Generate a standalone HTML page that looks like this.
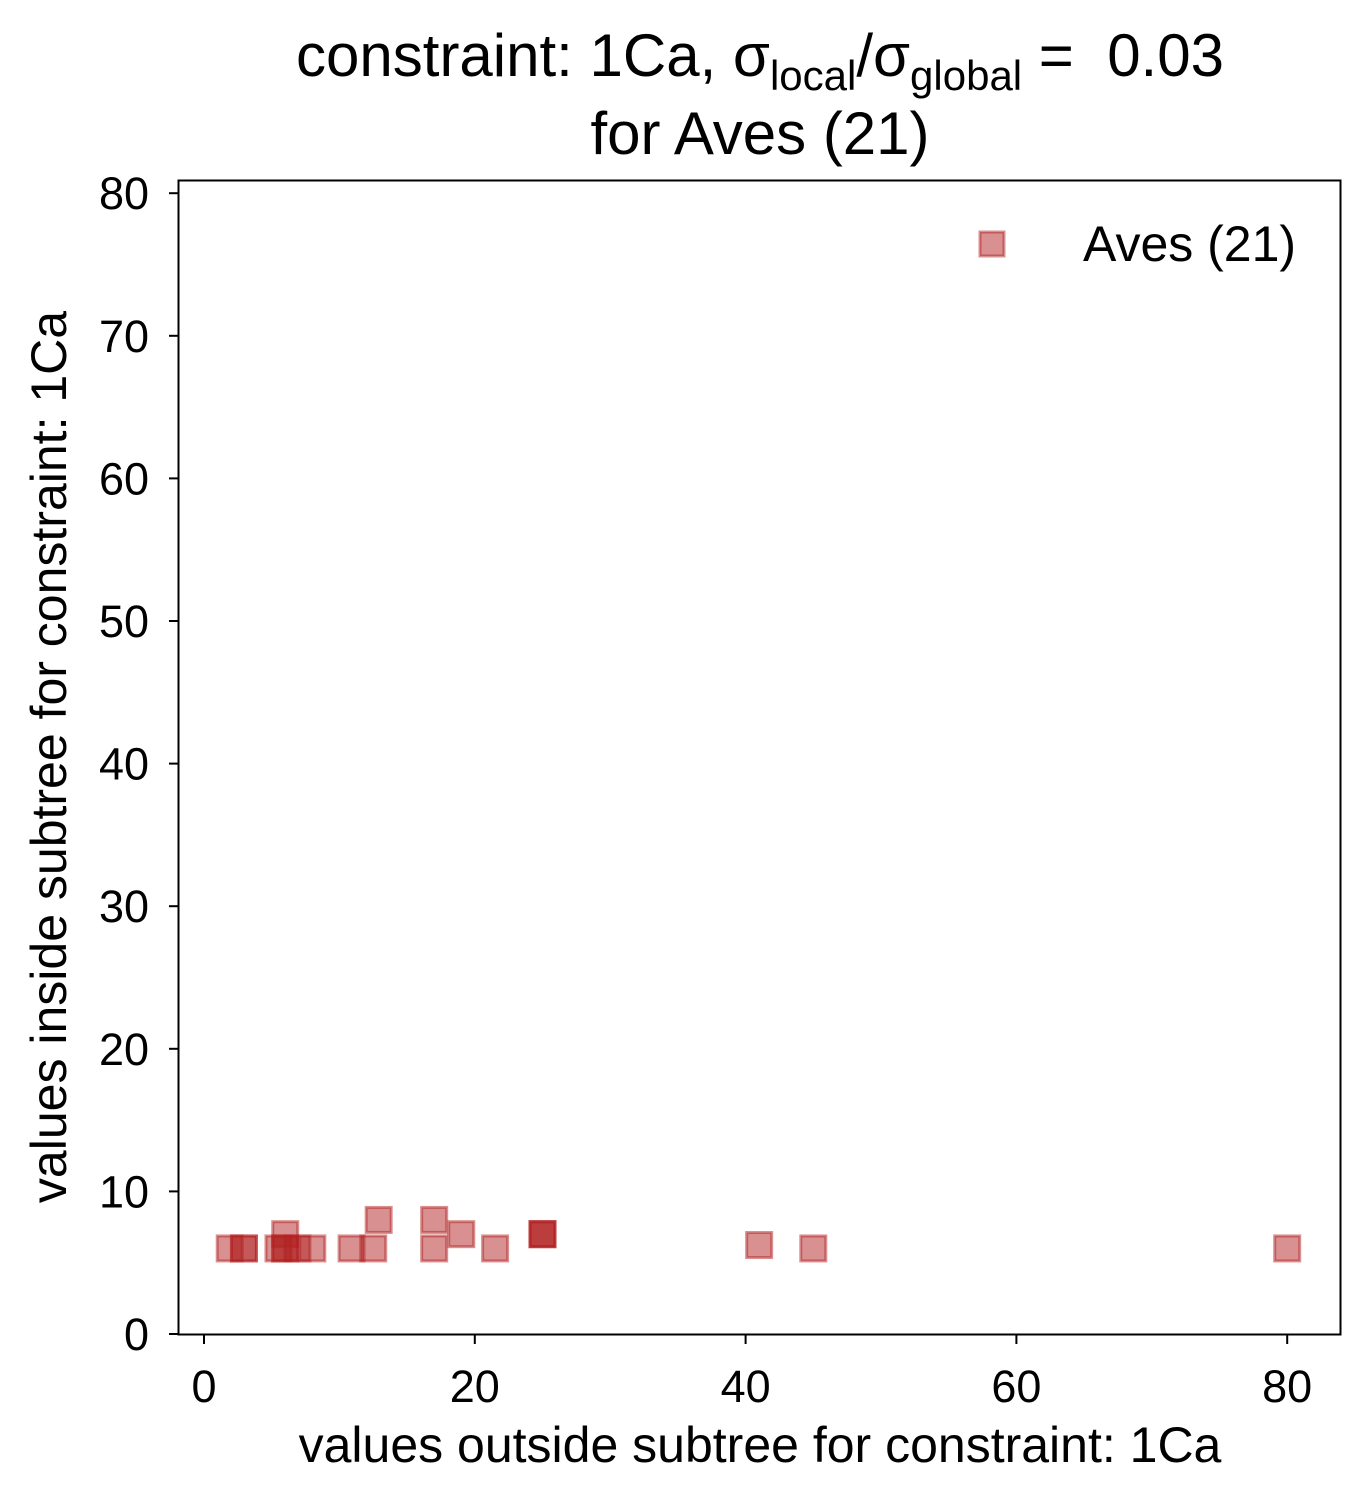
<!DOCTYPE html>
<html><head><meta charset="utf-8"><style>
body{margin:0;background:#fff;}
svg text{font-family:"Liberation Sans",Arial,sans-serif;fill:#000;}
</style></head><body>
<svg id="chart" width="1370" height="1502" xmlns="http://www.w3.org/2000/svg">
<text x="760" y="76" font-size="60" text-anchor="middle">constraint: 1Ca, σ<tspan font-size="42" dy="14">local</tspan><tspan dy="-14">/σ</tspan><tspan font-size="42" dy="14">global</tspan><tspan dy="-14"> = &#160;0.03</tspan></text>
<text x="760" y="154" font-size="60" text-anchor="middle">for Aves (21)</text>
<g id="xt"></g>
<g id="yt"></g>
<g id="pts"></g>
<rect x="178.5" y="180.5" width="1162" height="1154" fill="none" stroke="#000" stroke-width="2"/>
<text x="760" y="1462" font-size="50" text-anchor="middle">values outside subtree for constraint: 1Ca</text>
<text transform="translate(66,757) rotate(-90)" font-size="50" text-anchor="middle">values inside subtree for constraint: 1Ca</text>
<g>
<rect x="980" y="232" width="24" height="24" fill="rgba(178,34,34,0.5)" stroke="rgba(178,34,34,0.5)" stroke-width="3"/>
<text x="1083" y="261" font-size="50">Aves (21)</text>
</g>
</svg>
<script>
const xValues=[1.9,2.95,2.95,5.5,6.0,6.0,6.0,6.9,8.0,10.9,12.5,12.9,17.0,17.0,19.0,21.5,25.0,25.0,25.0,41.0,45.0,80.0];
const yValues=[6,6,6,6,7,6,6,6,6,6,6,8,8,6,7,6,7,7,7,6.24,6,6];
const xTicks=[0,20,40,60,80];
const yTicks=[0,10,20,30,40,50,60,70,80];
const NS="http://www.w3.org/2000/svg";
function sx(v){return 204+v*13.54;}
function sy(v){return 1334-v*14.26;}
const xt=document.getElementById('xt'),yt=document.getElementById('yt'),pts=document.getElementById('pts');
xTicks.forEach(t=>{
 const l=document.createElementNS(NS,'line');
 l.setAttribute('x1',sx(t));l.setAttribute('x2',sx(t));l.setAttribute('y1',1335);l.setAttribute('y2',1344);l.setAttribute('stroke','#000');l.setAttribute('stroke-width',2);
 
 
 xt.appendChild(l);
 const tx=document.createElementNS(NS,'text');
 tx.setAttribute('x',sx(t));tx.setAttribute('y',1402);tx.setAttribute('font-size',45);tx.setAttribute('text-anchor','middle');tx.textContent=t;
 
 
 xt.appendChild(tx);
});
yTicks.forEach(t=>{
 const l=document.createElementNS(NS,'line');
 l.setAttribute('x1',169);l.setAttribute('x2',178);l.setAttribute('y1',sy(t));l.setAttribute('y2',sy(t));l.setAttribute('stroke','#000');l.setAttribute('stroke-width',2);
 
 
 yt.appendChild(l);
 const tx=document.createElementNS(NS,'text');
 tx.setAttribute('x',149);tx.setAttribute('y',sy(t)+16);tx.setAttribute('font-size',45);tx.setAttribute('text-anchor','end');tx.textContent=t;
 
 
 yt.appendChild(tx);
});
xValues.forEach((x,i)=>{
 const r=document.createElementNS(NS,'rect');
 r.setAttribute('x',sx(x)-12.5);r.setAttribute('y',sy(yValues[i])-12.5);r.setAttribute('width',25);r.setAttribute('height',25);
 r.setAttribute('fill','rgba(178,34,34,0.5)');r.setAttribute('stroke','rgba(178,34,34,0.5)');r.setAttribute('stroke-width',3);
 
 
 pts.appendChild(r);
});
</script>
</body></html>
